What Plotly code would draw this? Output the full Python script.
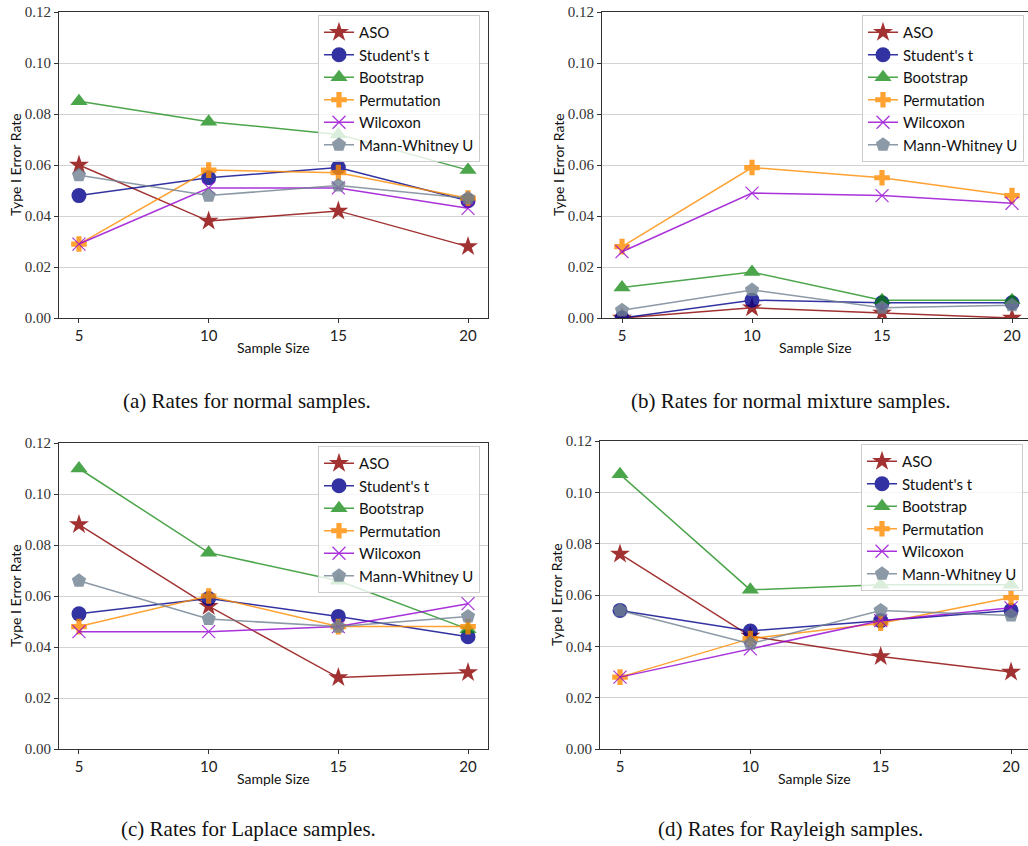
import plotly.graph_objects as go

W, H = 1028, 846

sample_sizes = [5, 10, 15, 20]
methods = ["ASO", "Student's t", "Bootstrap", "Permutation", "Wilcoxon", "Mann-Whitney U"]

# Panel (a): normal samples
normal_aso = [0.060, 0.038, 0.042, 0.028]
normal_student = [0.048, 0.055, 0.059, 0.046]
normal_bootstrap = [0.085, 0.077, 0.072, 0.058]
normal_permutation = [0.029, 0.058, 0.057, 0.047]
normal_wilcoxon = [0.029, 0.051, 0.051, 0.043]
normal_mwu = [0.056, 0.048, 0.052, 0.047]

# Panel (b): normal mixture samples
mixture_aso = [0.000, 0.004, 0.002, 0.000]
mixture_student = [0.000, 0.007, 0.006, 0.006]
mixture_bootstrap = [0.012, 0.018, 0.007, 0.007]
mixture_permutation = [0.028, 0.059, 0.055, 0.048]
mixture_wilcoxon = [0.026, 0.049, 0.048, 0.045]
mixture_mwu = [0.003, 0.011, 0.004, 0.005]

# Panel (c): Laplace samples
laplace_aso = [0.088, 0.056, 0.028, 0.030]
laplace_student = [0.053, 0.059, 0.052, 0.044]
laplace_bootstrap = [0.110, 0.077, 0.066, 0.047]
laplace_permutation = [0.048, 0.060, 0.048, 0.048]
laplace_wilcoxon = [0.046, 0.046, 0.048, 0.057]
laplace_mwu = [0.066, 0.051, 0.048, 0.052]

# Panel (d): Rayleigh samples
rayleigh_aso = [0.076, 0.044, 0.036, 0.030]
rayleigh_student = [0.054, 0.046, 0.050, 0.054]
rayleigh_bootstrap = [0.107, 0.062, 0.064, 0.064]
rayleigh_permutation = [0.028, 0.043, 0.049, 0.059]
rayleigh_wilcoxon = [0.028, 0.039, 0.050, 0.055]
rayleigh_mwu = [0.054, 0.041, 0.054, 0.052]

captions = ["(a) Rates for normal samples.", "(b) Rates for normal mixture samples.",
            "(c) Rates for Laplace samples.", "(d) Rates for Rayleigh samples."]
y_ticks = [0.0, 0.02, 0.04, 0.06, 0.08, 0.10, 0.12]

panels = [
    [normal_aso, normal_student, normal_bootstrap, normal_permutation, normal_wilcoxon, normal_mwu],
    [mixture_aso, mixture_student, mixture_bootstrap, mixture_permutation, mixture_wilcoxon, mixture_mwu],
    [laplace_aso, laplace_student, laplace_bootstrap, laplace_permutation, laplace_wilcoxon, laplace_mwu],
    [rayleigh_aso, rayleigh_student, rayleigh_bootstrap, rayleigh_permutation, rayleigh_wilcoxon, rayleigh_mwu],
]

styles = [
    dict(color="#8b0000", symbol="star", size=15, opacity=0.8),
    dict(color="#00008b", symbol="circle", size=15, opacity=0.8),
    dict(color="#008000", symbol="triangle-up", size=15, opacity=0.7),
    dict(color="#ff8c00", symbol="cross", size=13, opacity=0.8),
    dict(color="#9400d3", symbol="x-thin", size=13, opacity=0.8),
    dict(color="#708090", symbol="pentagon", size=15, opacity=0.8),
]

# pixel geometry (left, right, top, bottom) and x-range per panel
geom = [
    dict(l=59, r=488, t=12, b=318, xr=[4.23, 20.77], leg_r=480, leg_t=15, ylab=15, capx=247, capy=401, xlab_y=348),
    dict(l=602, r=1028, t=12, b=318, xr=[4.23, 20.615], leg_r=1024, leg_t=15, ylab=558, capx=791, capy=401, xlab_y=348),
    dict(l=59, r=488, t=443, b=749, xr=[4.23, 20.77], leg_r=480, leg_t=446, ylab=15, capx=248, capy=829, xlab_y=778),
    dict(l=600, r=1028, t=441, b=749, xr=[4.233, 20.65], leg_r=1023, leg_t=444, ylab=556, capx=790, capy=829, xlab_y=778),
]

fig = go.Figure()
layout = dict(width=W, height=H, margin=dict(l=0, r=0, t=0, b=0, autoexpand=False),
              paper_bgcolor="white", plot_bgcolor="white", showlegend=True)
annotations = []

for i, (data, g) in enumerate(zip(panels, geom)):
    n = "" if i == 0 else str(i + 1)
    leg = "legend" if i == 0 else f"legend{i + 1}"
    for name, vals, st in zip(methods, data, styles):
        marker = dict(symbol=st["symbol"], size=st["size"], color=st["color"],
                      line=dict(width=1.2 if st["symbol"] == "x-thin" else 0, color=st["color"]))
        fig.add_trace(go.Scatter(
            x=sample_sizes, y=vals, name=name, mode="lines+markers",
            line=dict(color=st["color"], width=1.5), marker=marker, opacity=st["opacity"],
            xaxis="x" + n, yaxis="y" + n, legend=leg,
        ))
    layout["xaxis" + n] = dict(
        domain=[g["l"] / W, g["r"] / W], range=g["xr"], anchor="y" + n, automargin=False,
        tickvals=sample_sizes, ticks="outside", ticklen=4, tickcolor="#333",
        showline=True, linecolor="#333", linewidth=1, mirror=True, showgrid=False, zeroline=False,
        tickfont=dict(family="Lato", size=15, color="#222"),
    )
    layout["yaxis" + n] = dict(
        domain=[1 - g["b"] / H, 1 - g["t"] / H], range=[0, 0.12], anchor="x" + n, automargin=False,
        tickvals=y_ticks, tickformat=".2f", ticks="outside", ticklen=4, tickcolor="#333",
        showline=True, linecolor="#333", linewidth=1, mirror=True,
        showgrid=True, gridcolor="#d3d3d3", gridwidth=1, zeroline=False,
        tickfont=dict(family="Liberation Serif", size=15, color="#333"),
    )
    layout[leg] = dict(
        x=g["leg_r"] / W, y=1 - g["leg_t"] / H, xanchor="right", yanchor="top",
        bgcolor="rgba(255,255,255,0.8)", bordercolor="#cccccc", borderwidth=1,
        font=dict(family="Lato", size=15, color="#111"),
    )
    annotations.append(dict(text="Type I Error Rate", xref="paper", yref="paper",
                            x=g["ylab"] / W, y=1 - (g["t"] + g["b"]) / 2 / H, textangle=-90,
                            showarrow=False, xanchor="center", yanchor="middle",
                            font=dict(family="Lato", size=14, color="#111")))
    xc = (g["l"] + min(g["r"], g["l"] + 429)) / 2
    annotations.append(dict(text="Sample Size", xref="paper", yref="paper",
                            x=xc / W, y=1 - g["xlab_y"] / H, showarrow=False,
                            xanchor="center", yanchor="middle",
                            font=dict(family="Lato", size=14, color="#111")))
    annotations.append(dict(text=captions[i], xref="paper", yref="paper",
                            x=g["capx"] / W, y=1 - g["capy"] / H, showarrow=False,
                            xanchor="center", yanchor="middle",
                            font=dict(family="Liberation Serif", size=21, color="#111")))

layout["annotations"] = annotations
fig.update_layout(**layout)
fig.write_html("out.html")
